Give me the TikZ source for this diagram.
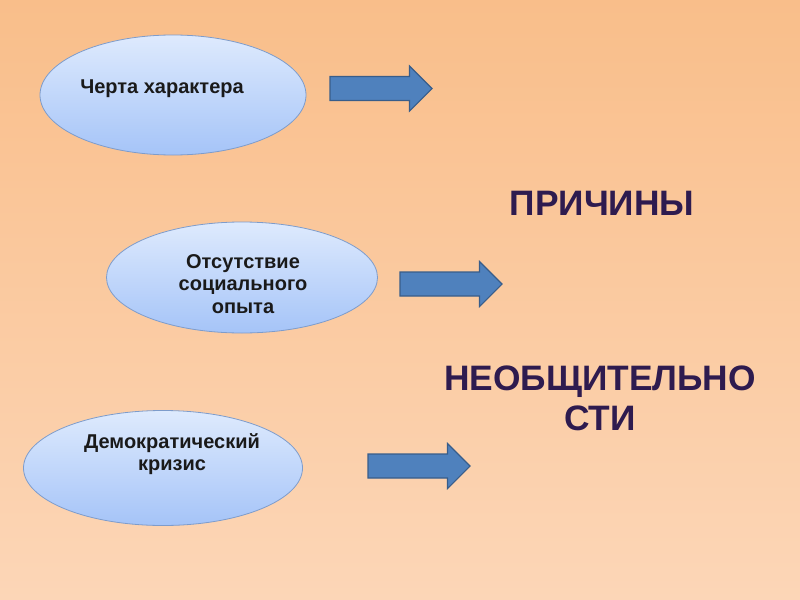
\documentclass[tikz,border=0pt]{standalone}
\usepackage{fontspec}
\setmainfont{Liberation Sans}
\usetikzlibrary{shapes.geometric,shapes.arrows}
\definecolor{bgtop}{HTML}{F9BE8A}
\definecolor{bgbot}{HTML}{FCD6B7}
\definecolor{elltop}{HTML}{DEEAFD}
\definecolor{ellbot}{HTML}{A5C4F8}
\definecolor{ellline}{HTML}{7E9CCB}
\definecolor{arrfill}{HTML}{4F81BD}
\definecolor{arrline}{HTML}{385D8A}
\definecolor{bigtext}{HTML}{2E1B4F}
\definecolor{smalltext}{HTML}{1A1A1A}
\tikzset{
  oval/.style={ellipse, draw=ellline, line width=0.6pt, top color=elltop, bottom color=ellbot, inner sep=0pt, outer sep=0pt},
  blockarrow/.style={single arrow, draw=arrline, line width=0.8pt, fill=arrfill, inner xsep=0pt, inner ysep=8.6pt, minimum height=76.5pt, minimum width=33pt, single arrow head extend=7.9pt, single arrow head indent=0pt},
  ovaltext/.style={font=\fontsize{15}{16.8}\selectfont\bfseries, text=smalltext, align=center, inner sep=0pt},
  bigtitle/.style={font=\fontsize{26.5}{30}\selectfont\bfseries, text=bigtext, align=center, inner sep=0pt}
}
\begin{document}
\begin{tikzpicture}[x=0.75pt, y=-0.75pt]
\shade[top color=bgtop, bottom color=bgbot] (0,0) rectangle (800,600);
\path[use as bounding box] (0,0) rectangle (800,600);
% ellipses
\node[oval, minimum width=199.5pt, minimum height=90pt] (e1) at (173,95) {};
\node[oval, minimum width=203.25pt, minimum height=83.25pt] (e2) at (242,277.5) {};
\node[oval, minimum width=209.25pt, minimum height=86.25pt] (e3) at (163,468) {};
% ellipse texts
\node[ovaltext] (t1) at (162,89) {Черта характера};
\node[ovaltext] (t2) at (243,284) {Отсутствие\\социального\\опыта};
\node[ovaltext] (t3) at (172,454) {Демократический\\кризис};
% arrows
\node[blockarrow] (a1) at (375,88.5) {};
\node[blockarrow] (a2) at (445,284) {};
\node[blockarrow] (a3) at (413,466) {};
% titles
\node[bigtitle] (p) at (602,203) {ПРИЧИНЫ};
\node[bigtitle] (n) at (600,398) {НЕОБЩИТЕЛЬНО\\СТИ};
\end{tikzpicture}
\end{document}
